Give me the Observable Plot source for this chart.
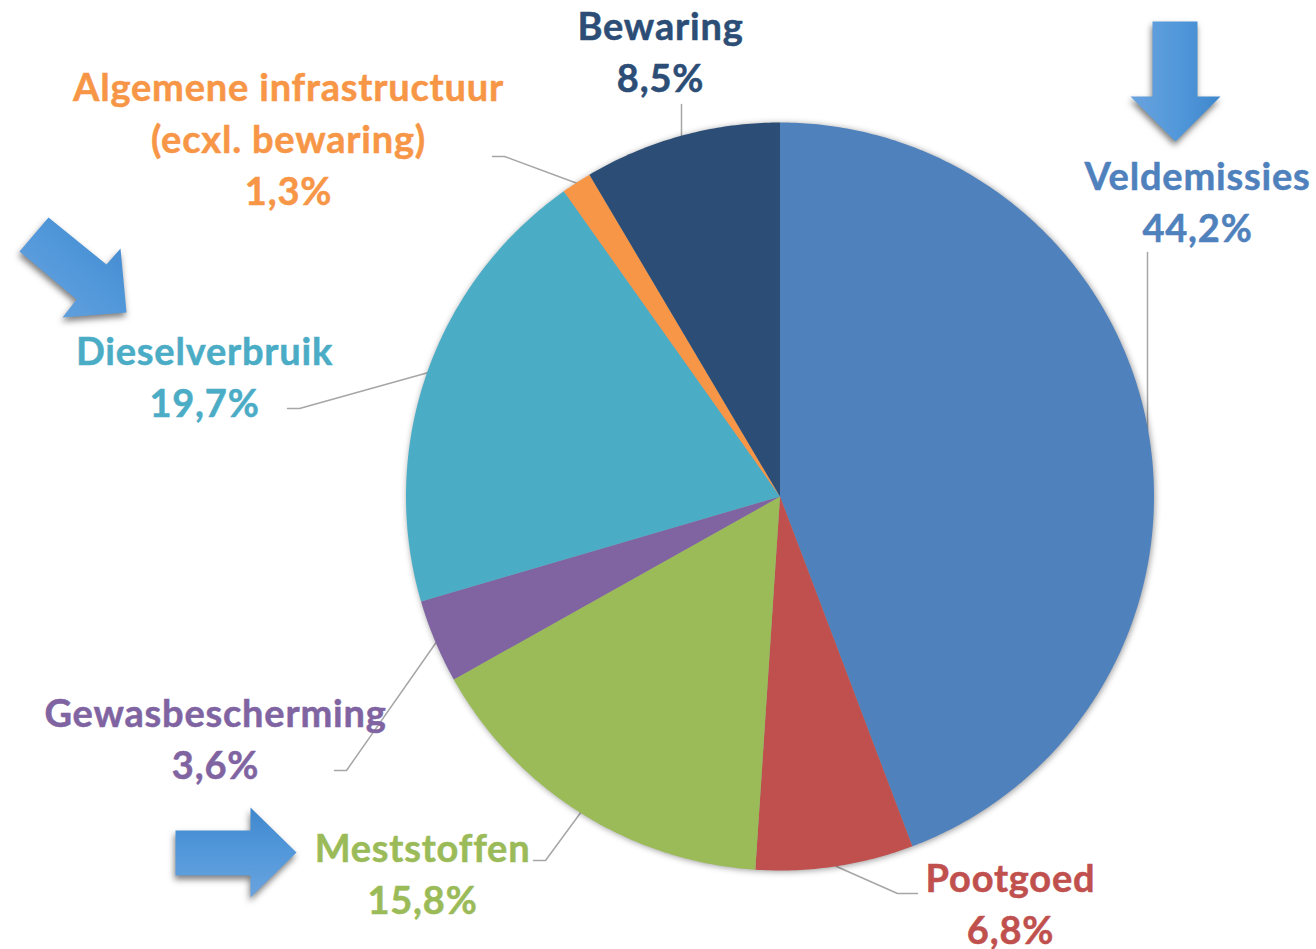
<!DOCTYPE html>
<html><head><meta charset="utf-8">
<script src="https://cdn.jsdelivr.net/npm/d3@7"></script>
<script src="https://cdn.jsdelivr.net/npm/@observablehq/plot@0.6"></script>
<style>
html,body{margin:0;padding:0;background:#fff;overflow:hidden}
svg{display:block}
g[aria-description="pie"]{filter:drop-shadow(1px 1px 3px rgba(0,0,0,.4))}
g[aria-description="arrow"]{filter:drop-shadow(-1px 4px 3px rgba(0,0,0,.5))}
g[aria-description="labels"]{letter-spacing:0.8px}
</style></head><body>
<div id="chart"></div>
<script>
// data
const names = ["Veldemissies","Pootgoed","Meststoffen","Gewasbescherming","Dieselverbruik","Algemene infrastructuur","Bewaring"];
const shares = [44.2,6.8,15.8,3.6,19.7,1.3,8.5];
const colors = ["#4F81BD","#C0504D","#9BBB59","#8064A2","#4BACC6","#F79646","#2C4D75"];
const labelLines = ["Veldemissies","Pootgoed","Meststoffen","Gewasbescherming","Dieselverbruik","Algemene infrastructuur\n(ecxl. bewaring)","Bewaring"];

// layout (pixel space of the picture)
const W = 1316, H = 949, cx = 779.5, cy = 496, R = 374;
const labelX = [1197,1010,422,215,204,288,660];
const labelY = [198.5,901,870.5,735.5,373.5,136,49];
const leaders = [
  [[1147,252],[1147,431]],
  [[836,866],[897,893],[917,893]],
  [[533,860],[545,860],[581,811]],
  [[334,770],[346,770],[437,640]],
  [[287,408],[299,408],[428,372]],
  [[492,156],[504,156],[577,183]],
  [[681,104],[681,135]]
];
const arrows = [
  {id:"a1",pts:[[1152,21],[1197,21],[1197,96],[1220,96],[1175,141],[1130,96],[1152,96]]},
  {id:"a2",pts:[[48,217],[106,264],[120,248],[126,312],[62,317],[76,299],[19,251]]},
  {id:"a3",pts:[[175,830],[250,830],[250,807],[296,852],[250,897],[250,875],[175,875]]}
];
const grads = [
  {id:"a1",x1:0,y1:0,x2:1,y2:0},
  {id:"a2",x1:0,y1:1,x2:1,y2:0},
  {id:"a3",x1:0,y1:1,x2:0,y2:0}
];

const pct = v => v.toFixed(1).replace(".",",") + "%";
const pie = d3.pie().sort(null).value((d,i)=>shares[i])(names);
const pieRows = pie.flatMap((a,i)=>{
  const n = Math.max(2, Math.ceil((a.endAngle-a.startAngle)/0.01));
  const pts = [{name:names[i],x:cx,y:cy}];
  for(let k=0;k<=n;k++){
    const t = a.startAngle+(a.endAngle-a.startAngle)*k/n;
    pts.push({name:names[i],x:cx+R*Math.sin(t),y:cy-R*Math.cos(t)});
  }
  pts.push({name:names[i],x:cx,y:cy});
  return pts;
});
const leaderRows = leaders.flatMap((l,i)=>l.map(p=>({i,x:p[0],y:p[1]})));
const labelRows = names.map((n,i)=>({name:n,x:labelX[i],y:labelY[i],text:labelLines[i]+"\n"+pct(shares[i])}));

const defs = () => {
  const d = d3.create("svg:defs");
  grads.forEach(g=>{
    const lg = d.append("linearGradient").attr("id",g.id)
      .attr("x1",g.x1).attr("y1",g.y1).attr("x2",g.x2).attr("y2",g.y2);
    lg.append("stop").attr("offset",0).attr("stop-color","#6AA3DE");
    lg.append("stop").attr("offset",0.55).attr("stop-color","#5097DA");
    lg.append("stop").attr("offset",1).attr("stop-color","#3F87CB");
  });
  return d.node();
};

const fontSize = 38;
const chart = Plot.plot({
  width:W,height:H,margin:0,
  x:{domain:[0,W],range:[0,W],axis:null},
  y:{domain:[0,H],range:[0,H],axis:null},
  color:{domain:names,range:colors},
  style:{background:"#fff",overflow:"visible"},
  marks:[
    defs,
    Plot.line(leaderRows,{x:"x",y:"y",z:"i",stroke:"#A6A6A6",strokeWidth:1.5,curve:"linear"}),
    Plot.line(pieRows,{x:"x",y:"y",z:"name",fill:"name",stroke:"none",curve:"linear",ariaDescription:"pie"}),
    ...arrows.map(a=>Plot.line([...a.pts,a.pts[0]],{x:d=>d[0],y:d=>d[1],fill:`url(#${a.id})`,stroke:"none",curve:"linear",ariaDescription:"arrow"})),
    Plot.text(labelRows,{x:"x",y:"y",text:"text",fill:"name",stroke:"name",strokeWidth:0.5,fontFamily:"Lato",fontWeight:700,fontSize,lineHeight:52/fontSize,textAnchor:"middle",lineAnchor:"middle",ariaDescription:"labels"})
  ]
});
document.getElementById("chart").appendChild(chart);
</script>
</body></html>
